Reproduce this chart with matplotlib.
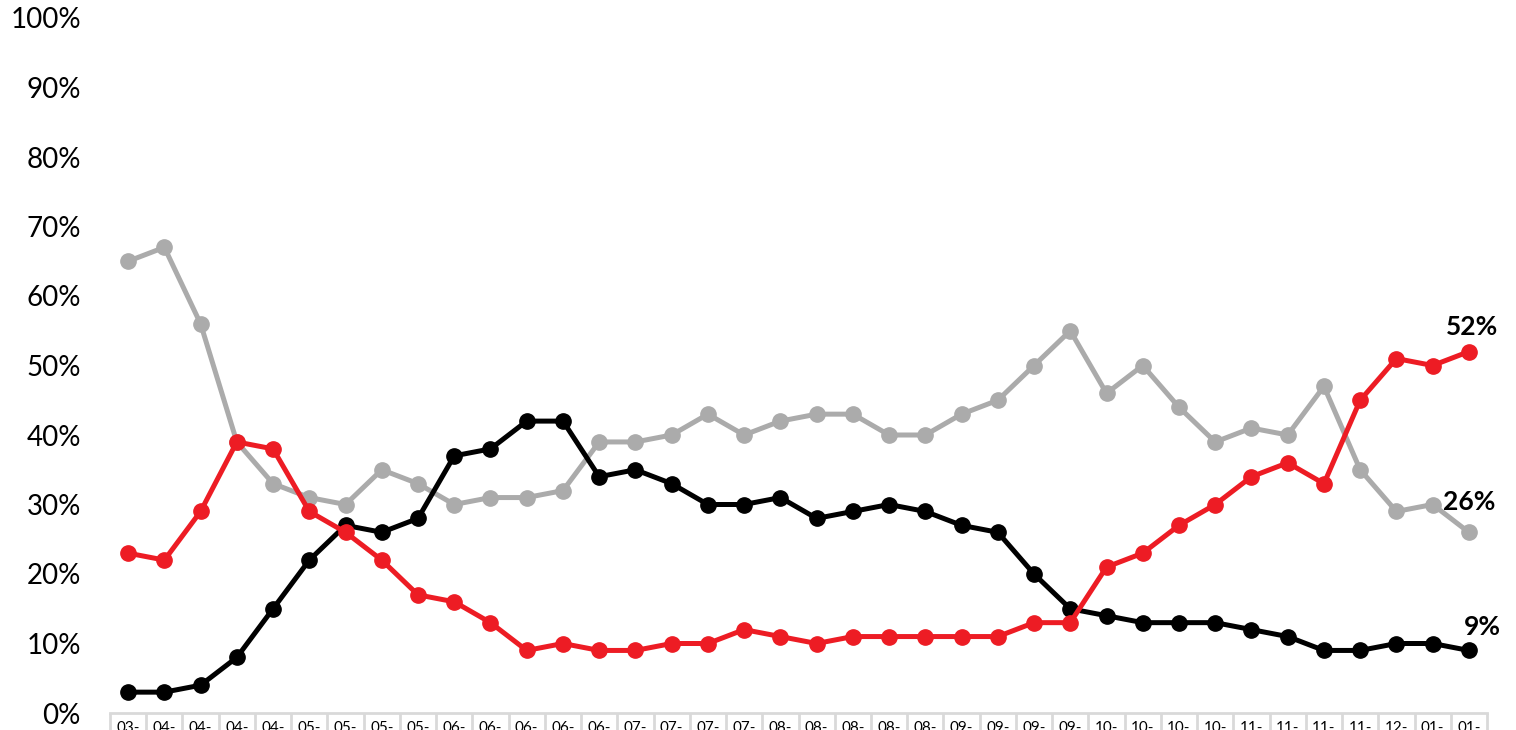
import numpy as np
import matplotlib.pyplot as plt
import matplotlib.transforms as mtransforms

plt.rcParams['font.family'] = ['Lato', 'DejaVu Sans']

# month prefix shown in each category cell
months = ["03-", "04-", "04-", "04-", "04-", "05-", "05-", "05-", "05-",
          "06-", "06-", "06-", "06-", "06-", "07-", "07-", "07-", "07-",
          "08-", "08-", "08-", "08-", "08-", "09-", "09-", "09-", "09-",
          "10-", "10-", "10-", "10-", "11-", "11-", "11-", "11-",
          "12-", "01-", "01-"]

red = [23, 22, 29, 39, 38, 29, 26, 22, 17, 16, 13, 9, 10, 9, 9, 10, 10, 12, 11,
       10, 11, 11, 11, 11, 11, 13, 13, 21, 23, 27, 30, 34, 36, 33, 45, 51, 50, 52]
gray = [65, 67, 56, 39, 33, 31, 30, 35, 33, 30, 31, 31, 32, 39, 39, 40, 43, 40, 42,
        43, 43, 40, 40, 43, 45, 50, 55, 46, 50, 44, 39, 41, 40, 47, 35, 29, 30, 26]
black = [3, 3, 4, 8, 15, 22, 27, 26, 28, 37, 38, 42, 42, 34, 35, 33, 30, 30, 31,
         28, 29, 30, 29, 27, 26, 20, 15, 14, 13, 13, 13, 12, 11, 9, 9, 10, 10, 9]

W, H = 1516, 730
fig = plt.figure(figsize=(W / 100, H / 100), dpi=100)
ax = fig.add_axes([110 / W, 17 / H, (1487 - 110) / W, (713 - 18) / H])

x = np.arange(len(months))
for vals, col in [(gray, "#ABABAB"), (black, "#000000"), (red, "#ED1C24")]:
    ax.plot(x, np.array(vals) / 100, color=col, lw=3.6, marker="o", ms=11,
            solid_joinstyle="round", zorder=3)

ax.set_xlim(-0.5, len(months) - 0.5)
ax.set_ylim(0, 1)
ax.set_yticks(np.arange(0, 1.01, 0.1))
ax.set_yticklabels([f"{int(round(v * 100))}%" for v in np.arange(0, 1.01, 0.1)],
                   fontsize=20)
ax.tick_params(axis="y", length=0, pad=21)
ax.set_xticks(x)
ax.set_xticklabels(months, fontsize=11)
ax.tick_params(axis="x", length=0, pad=6)

for s in ["top", "right", "left"]:
    ax.spines[s].set_visible(False)
ax.spines["bottom"].set_color("#D9D9D9")
ax.spines["bottom"].set_linewidth(2)

# cell borders of the category row under the axis
trans = mtransforms.blended_transform_factory(ax.transData, ax.transAxes)
ax.vlines(np.arange(len(months) + 1) - 0.5, -0.1, 0, transform=trans,
          color="#D9D9D9", lw=2, clip_on=False)

# end labels
lab = dict(fontsize=19, fontweight="bold", color="black",
           textcoords="offset points", ha="center", va="center")
ax.annotate(f"{red[-1]}%", (x[-1], red[-1] / 100), xytext=(2, 18), **lab)
ax.annotate(f"{gray[-1]}%", (x[-1], gray[-1] / 100), xytext=(0, 21.5), **lab)
ax.annotate(f"{black[-1]}%", (x[-1], black[-1] / 100), xytext=(10, 17), **lab)

fig.savefig("out.png", dpi=100)
